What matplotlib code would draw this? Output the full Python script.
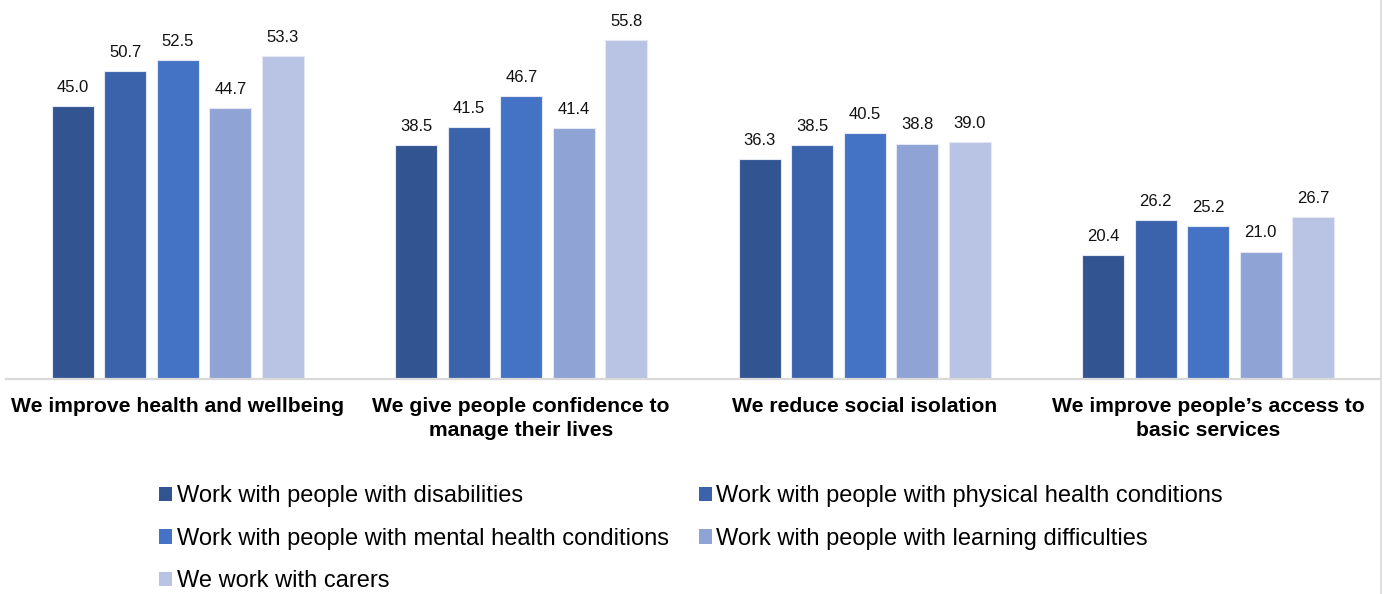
import numpy as np
import matplotlib
matplotlib.use("Agg")
import matplotlib.pyplot as plt
from matplotlib.patches import Patch

categories = [
    "We improve health and wellbeing",
    "We give people confidence to\nmanage their lives",
    "We reduce social isolation",
    "We improve people\u2019s access to\nbasic services",
]
series_names = [
    "Work with people with disabilities",
    "Work with people with physical health conditions",
    "Work with people with mental health conditions",
    "Work with people with learning difficulties",
    "We work with carers",
]
disabilities = [45.0, 38.5, 36.3, 20.4]
physical_health = [50.7, 41.5, 38.5, 26.2]
mental_health = [52.5, 46.7, 40.5, 25.2]
learning_difficulties = [44.7, 41.4, 38.8, 21.0]
carers = [53.3, 55.8, 39.0, 26.7]

series_values = [disabilities, physical_health, mental_health,
                 learning_difficulties, carers]
colors = ["#325592", "#3A63AC", "#4472C4", "#8FA3D4", "#B9C3E3"]

plt.rcParams["font.family"] = ["Liberation Sans", "DejaVu Sans"]

W, H = 1387, 594
fig = plt.figure(figsize=(W / 100, H / 100), dpi=100)
ax = fig.add_axes([6 / W, (H - 379) / H, 1374 / W, 379 / H])

x = np.arange(len(categories))
step = 0.153
bar_w = 0.122
for i, (vals, col) in enumerate(zip(series_values, colors)):
    pos = x + (i - 2) * step
    ax.bar(pos, vals, width=bar_w, color=col, edgecolor="#E4E8F4",
           linewidth=0.8, zorder=2)
    for p, v in zip(pos, vals):
        ax.annotate(f"{v:.1f}", (p, v), xytext=(0, 8),
                    textcoords="offset points", ha="center", va="bottom",
                    fontsize=12, color="#111111")

ax.set_xlim(-0.5, 3.5)
ax.set_ylim(0, 379 / 6.067)
ax.set_yticks([])
ax.set_xticks(x)
ax.set_xticklabels(categories, fontsize=15.2, fontweight="bold",
                   linespacing=1.36)
ax.tick_params(axis="x", length=0, pad=13)
for s in ["top", "right", "left"]:
    ax.spines[s].set_visible(False)
ax.spines["bottom"].set_color("#D9D9D9")
ax.spines["bottom"].set_linewidth(1.6)

# thin frame line at the right edge of the chart area
fig.add_artist(plt.Line2D([1381 / W, 1381 / W], [0, 1],
                          color="#D9D9D9", linewidth=1.2, zorder=-1))

# legend entries laid out row by row across two columns
order = [0, 2, 4, 1, 3]
handles = [Patch(facecolor=colors[k], edgecolor="none") for k in order]
labels = [series_names[k] for k in order]
leg = fig.legend(handles, labels, ncol=2, loc="upper left",
                 bbox_to_anchor=(150 / W, 1 - 476 / H), frameon=False,
                 fontsize=17, handlelength=0.55, handleheight=0.55,
                 handletextpad=0.2, columnspacing=1.25, labelspacing=0.86,
                 borderaxespad=0)

fig.savefig("out.png", dpi=100, facecolor="white")
